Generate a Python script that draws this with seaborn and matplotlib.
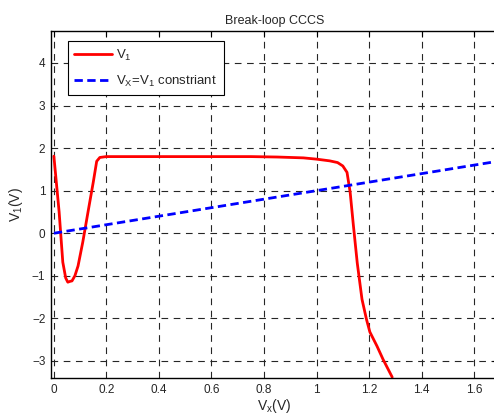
import matplotlib
matplotlib.use("Agg")
import matplotlib.pyplot as plt
import seaborn as sns
import numpy as np
import pandas as pd

# red curve: V1 versus Vx
vx_red = [0.0, 0.02, 0.034, 0.045, 0.053, 0.062, 0.069, 0.08, 0.092, 0.11, 0.13,
          0.15, 0.163, 0.175, 0.2, 0.3, 0.5, 0.75, 0.85, 0.95, 1.0, 1.05, 1.08,
          1.1, 1.116, 1.128, 1.14, 1.155, 1.173, 1.19, 1.203, 1.23, 1.253, 1.288]
v1_red = [1.81, 0.5, -0.68, -1.05, -1.15, -1.13, -1.12, -1.0, -0.77, -0.21, 0.5,
          1.2, 1.69, 1.78, 1.80, 1.80, 1.80, 1.80, 1.79, 1.77, 1.74, 1.70, 1.66,
          1.58, 1.43, 0.96, 0.2, -0.7, -1.55, -2.02, -2.32, -2.65, -2.96, -3.38]

# constraint line Vx = V1
vx_blue = [0.0, 1.7]
v1_blue = [0.0, 1.7]

xticks = [0, 0.2, 0.4, 0.6, 0.8, 1, 1.2, 1.4, 1.6]
yticks = [-3, -2, -1, 0, 1, 2, 3, 4]

sns.set_style("white")
plt.rcParams['font.family'] = ['Liberation Sans', 'DejaVu Sans']
plt.rcParams['mathtext.fontset'] = 'custom'
plt.rcParams['mathtext.rm'] = 'Liberation Sans'
plt.rcParams['mathtext.it'] = 'Liberation Sans'

fig = plt.figure(figsize=(4.94, 4.15), dpi=100)
ax = fig.add_axes([0.1032, 0.0892, 0.905, 0.8361])

red = pd.DataFrame({"x": vx_red, "y": v1_red})
blue = pd.DataFrame({"x": vx_blue, "y": v1_blue})
sns.lineplot(data=red, x="x", y="y", ax=ax, color="red", lw=2,
             sort=False, estimator=None, label="V$_1$")
sns.lineplot(data=blue, x="x", y="y", ax=ax, color="blue", lw=2,
             sort=False, estimator=None, label="V$_X$=V$_1$ constriant")
ax.lines[1].set_dashes((3, 1.6))

ax.set_xlim(-0.011, 1.691)
ax.set_ylim(-3.4, 4.75)
ax.set_xticks(xticks)
ax.set_xticklabels([f"{t:g}" for t in xticks])
ax.set_yticks(yticks)
ax.tick_params(direction="in", top=True, right=True, labelsize=8.5, length=4,
               width=0.8, color="black", pad=4)
ax.grid(True, color="0.15", linestyle=(0, (6, 5)), lw=0.8)
for s in ax.spines.values():
    s.set_color("black")
    s.set_linewidth(1.0)

ax.set_title("Break-loop CCCS", fontsize=9, pad=5)
ax.set_xlabel("V$_x$(V)", fontsize=10, labelpad=1)
ax.set_ylabel("V$_1$(V)", fontsize=10, labelpad=5)

leg = ax.legend(loc="upper left", bbox_to_anchor=(0.037, 0.97), fontsize=9.5,
                frameon=True, fancybox=False, edgecolor="black", framealpha=1,
                handlelength=2.9, handletextpad=0.3, borderpad=0.5,
                labelspacing=0.8, borderaxespad=0)
leg.get_frame().set_linewidth(0.8)

fig.savefig("out.png", dpi=100)
